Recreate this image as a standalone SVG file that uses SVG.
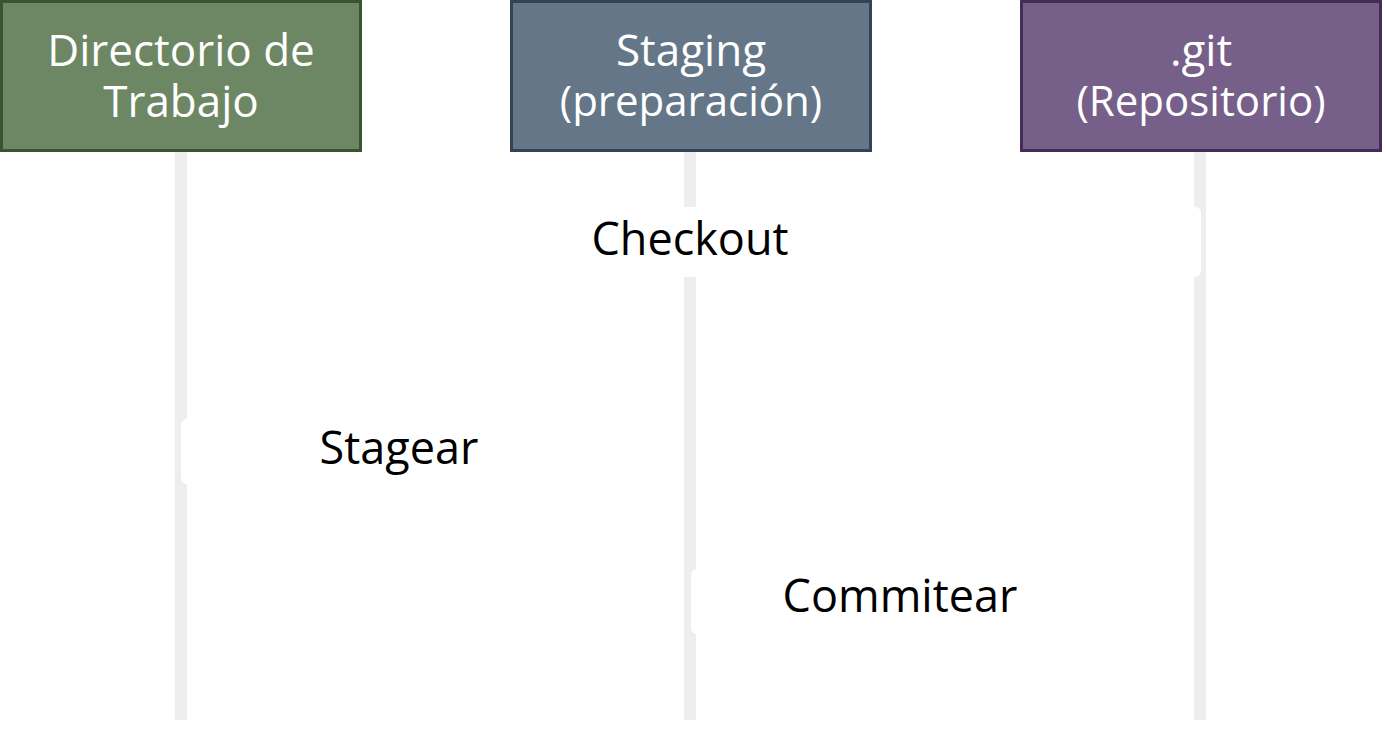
<svg xmlns="http://www.w3.org/2000/svg" width="1386" height="732" viewBox="0 0 1386 732">
<style>
.hdr{font-family:"Open Sans","Noto Sans",sans-serif;font-size:44px;fill:#ffffff;text-anchor:middle}
.sub{font-size:42px}
.lbl{font-family:"Open Sans","Noto Sans",sans-serif;font-size:45px;fill:#000000;text-anchor:middle}
.life{fill:#eeeeee}
.lblbg{fill:#ffffff}
</style>
<rect width="1386" height="732" fill="#ffffff"/>
<g id="lifelines">
<rect class="life" x="175" y="152" width="12" height="568"/>
<rect class="life" x="684" y="152" width="12" height="568"/>
<rect class="life" x="1194" y="152" width="12" height="568"/>
</g>
<g id="node-directorio">
<rect x="1.5" y="1.5" width="359" height="149" fill="#6d8764" stroke="#3a5431" stroke-width="3"/>
<text class="hdr" x="181" y="66">Directorio de<tspan x="181" y="117">Trabajo</tspan></text>
</g>
<g id="node-staging">
<rect x="511.5" y="1.5" width="359" height="149" fill="#647687" stroke="#314354" stroke-width="3"/>
<text class="hdr" x="691" y="66">Staging<tspan class="sub" x="691" y="116">(preparación)</tspan></text>
</g>
<g id="node-git">
<rect x="1021.5" y="1.5" width="359" height="149" fill="#76608a" stroke="#432d57" stroke-width="3"/>
<text class="hdr" x="1201" y="66">.git<tspan class="sub" x="1201" y="116">(Repositorio)</tspan></text>
</g>
<g id="connectors">
<g id="edge-checkout">
<rect class="lblbg" x="580" y="207" width="621" height="70" rx="6"/>
<text class="lbl" x="690" y="255">Checkout</text>
</g>
<g id="edge-stagear">
<rect class="lblbg" x="181" y="419" width="436" height="65" rx="6"/>
<text class="lbl" x="399" y="464">Stagear</text>
</g>
<g id="edge-commitear">
<rect class="lblbg" x="691" y="569" width="418" height="65" rx="6"/>
<text class="lbl" x="900" y="612">Commitear</text>
</g>
</g>
</svg>
